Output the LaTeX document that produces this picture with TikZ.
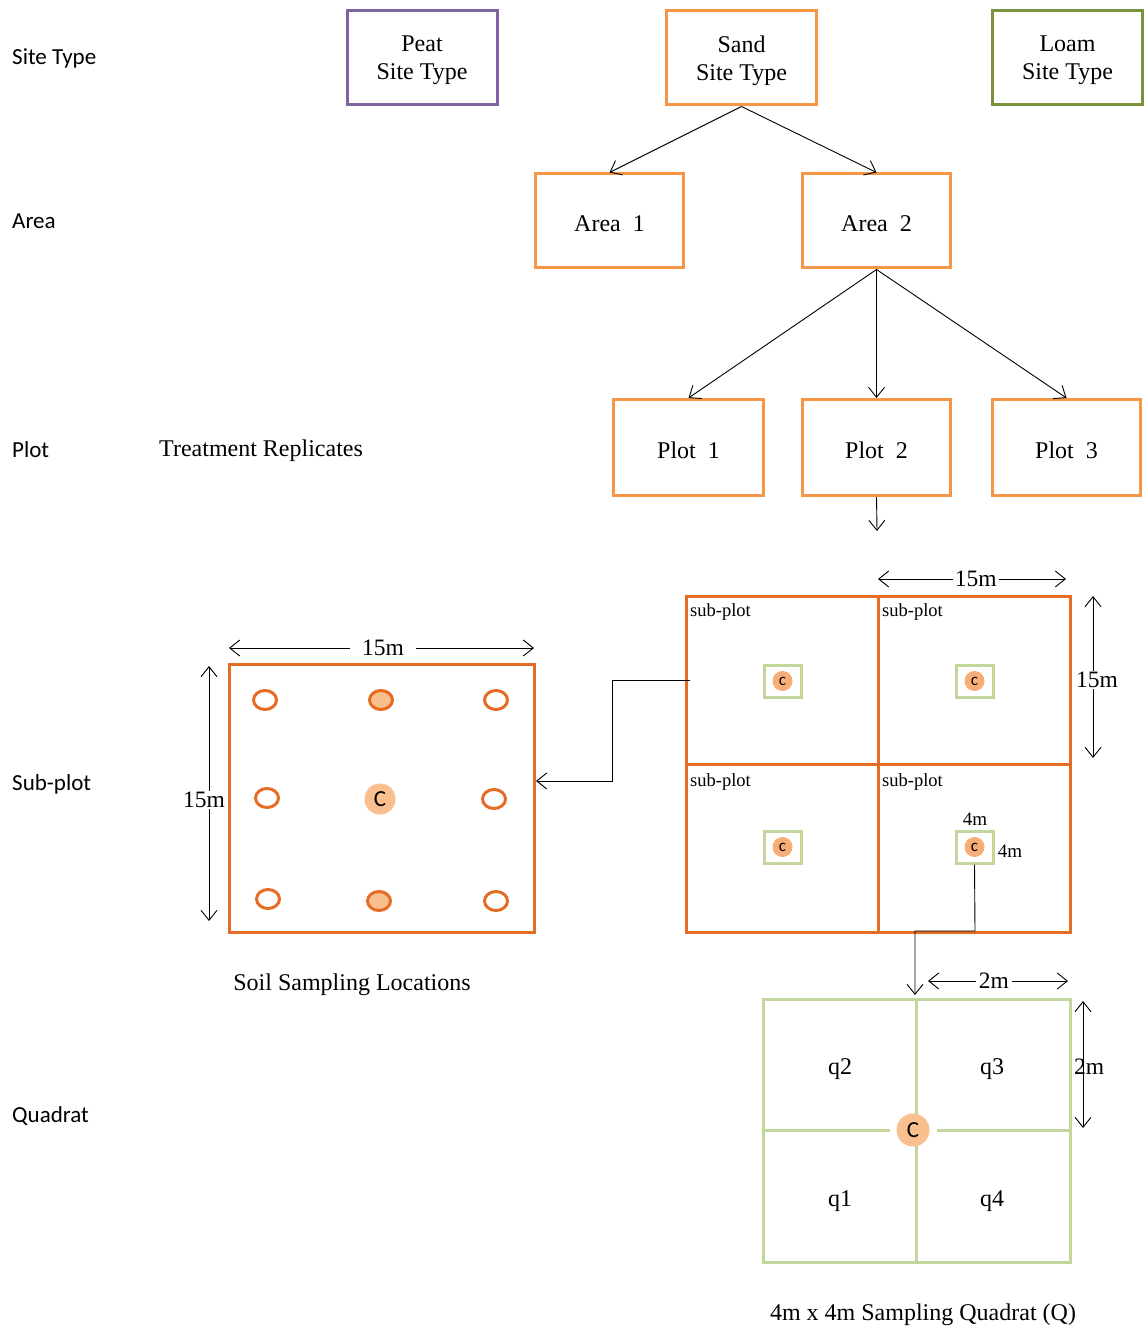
\documentclass[tikz,border=0pt]{standalone}
\usepackage{fontspec}
\setmainfont{Liberation Serif}
\newfontfamily\labfont{Carlito}
\usetikzlibrary{arrows.meta,shapes.geometric}
\definecolor{peat}{HTML}{8064A2}
\definecolor{sand}{HTML}{F79646}
\definecolor{loam}{HTML}{77933C}
\definecolor{dorange}{HTML}{E46C24}
\definecolor{lgreen}{HTML}{C3D69B}
\definecolor{cfill}{HTML}{F9BF8F}
\definecolor{cfilltwo}{HTML}{F7AD78}
\begin{document}
\begin{tikzpicture}[x=1pt,y=-1pt,
  box/.style={draw, line width=3pt, minimum width=150pt, minimum height=94pt, inner sep=0pt},
  boxtxt/.style={align=center, inner sep=0pt, yshift=-2.5pt, font=\fontsize{24}{28}\selectfont},
  lbl/.style={anchor=west, inner sep=0pt, font=\labfont\fontsize{23}{26}\selectfont},
  serif/.style={inner sep=0pt, font=\fontsize{24}{28}\selectfont},
  sub/.style={anchor=west, inner sep=0pt, font=\fontsize{18.5}{20}\selectfont},
  arr/.style={-{Straight Barb[length=10pt,width=16pt]}, line width=0.9pt},
  dimarr/.style={{Straight Barb[length=10pt,width=16pt]}-{Straight Barb[length=10pt,width=16pt]}, line width=0.9pt},
  dimtxt/.style={fill=white, inner xsep=2pt, inner ysep=1pt, font=\fontsize{23.5}{26}\selectfont},
  ring/.style={ellipse, draw=dorange, line width=3pt, minimum width=23pt, minimum height=19pt, inner sep=0pt},
  fring/.style={ring, fill=cfill},
  smallsq/.style={draw=lgreen, line width=3pt, minimum width=37pt, minimum height=32pt, inner sep=0pt},
  smallc/.style={circle, fill=cfilltwo, minimum size=20pt, inner sep=0pt, font=\labfont\fontsize{17}{17}\selectfont},
  bigc/.style={circle, fill=cfill, minimum size=31pt, inner sep=0pt, font=\labfont\fontsize{23}{23}\selectfont}
]
\useasboundingbox (0,0) rectangle (1144,1329);

% left level labels
\node[lbl] (lsite) at (12,58) {Site Type};
\node[lbl] (larea) at (12,221) {Area};
\node[lbl] (lplot) at (12,450) {Plot};
\node[lbl] (lsub) at (12,784) {Sub-plot};
\node[lbl] (lquad) at (12,1116) {Quadrat};
\node[serif, anchor=west] (treat) at (159,451) {Treatment Replicates};

% hierarchy boxes
\node[box, draw=peat] (peat) at (422,58) {};
\node[box, draw=sand] (sandb) at (741.5,58) {};
\node[box, draw=loam] (loam) at (1067.5,58) {};
\node[box, draw=sand, minimum width=148pt] (area1) at (609.5,221) {};
\node[box, draw=sand, minimum width=148pt] (area2) at (876.5,221) {};
\node[box, draw=sand, minimum height=96pt] (plot1) at (688.5,447.5) {};
\node[box, draw=sand, minimum width=148pt, minimum height=96pt] (plot2) at (876.5,447.5) {};
\node[box, draw=sand, minimum width=148pt, minimum height=96pt] (plot3) at (1066.5,447.5) {};
\node[boxtxt] (peatt) at (peat.center) {Peat\\Site Type};
\node[boxtxt] (sandt) at (sandb.center) {Sand\\Site Type};
\node[boxtxt] (loamt) at (loam.center) {Loam\\Site Type};
\node[boxtxt] (area1t) at (area1.center) {Area\ \ 1};
\node[boxtxt] (area2t) at (area2.center) {Area\ \ 2};
\node[boxtxt] (plot1t) at (plot1.center) {Plot\ \ 1};
\node[boxtxt] (plot2t) at (plot2.center) {Plot\ \ 2};
\node[boxtxt] (plot3t) at (plot3.center) {Plot\ \ 3};

\draw[arr] (sandb.south) -- (area1.north);
\draw[arr] (sandb.south) -- (area2.north);
\draw[arr] (area2.south) -- (plot1.north);
\draw[arr] (area2.south) -- (plot2.north);
\draw[arr] (area2.south) -- (plot3.north);
\coordinate (p2end) at (877,531);
\draw[arr] (plot2.south) -- (p2end);

% sub-plot grid (right)
\node[draw=dorange, line width=3pt, minimum width=384pt, minimum height=336pt, inner sep=0pt] (grid) at (878,764) {};
\draw[draw=dorange, line width=3pt] (grid.north) -- (grid.south);
\draw[draw=dorange, line width=3pt] (grid.west) -- (grid.east);
\node[sub] (s1) at (690,612) {sub-plot};
\node[sub] (s2) at (882,612) {sub-plot};
\node[sub] (s3) at (690,782) {sub-plot};
\node[sub] (s4) at (882,782) {sub-plot};
\node[smallsq] (q1) at (782.5,681) {};
\node[smallsq] (q2) at (974.5,681) {};
\node[smallsq] (q3) at (782.5,847) {};
\node[smallsq] (q4) at (974.5,847) {};
\node[smallc] at (q1) {c};
\node[smallc] at (q2) {c};
\node[smallc] at (q3) {c};
\node[smallc] at (q4) {c};
\node[inner sep=0pt, font=\fontsize{19}{20}\selectfont] (q4top) at (975,819) {4m};
\node[inner sep=0pt, font=\fontsize{19}{20}\selectfont] (q4right) at (1010,851) {4m};

\coordinate (gt1) at (878,579);
\coordinate (gt2) at (1066,579);
\draw[dimarr] (gt1) -- (gt2) node[dimtxt, pos=0.52] {15m};
\coordinate (gr1) at (1093,596);
\coordinate (gr2) at (1093,758);
\draw[dimarr] (gr1) -- (gr2) node[dimtxt, pos=0.52, xshift=4pt] {15m};

% soil sampling square (left)
\node[draw=dorange, line width=3pt, minimum width=305pt, minimum height=268pt, inner sep=0pt] (sq) at (381.5,798) {};
\node[ring] (r11) at (265,700) {};
\node[fring] (r12) at (381,700) {};
\node[ring] (r13) at (496,700) {};
\node[ring] (r21) at (267,798) {};
\node[bigc] (rc) at (380,799) {C};
\node[ring] (r23) at (494,799) {};
\node[ring] (r31) at (268,899) {};
\node[fring] (r32) at (379,901) {};
\node[ring] (r33) at (496,901) {};

\coordinate (st1) at (229,648);
\coordinate (st2) at (534,648);
\draw[dimarr] (st1) -- (st2) node[dimtxt, pos=0.505, inner xsep=12pt] {15m};
\coordinate (sl1) at (209,666);
\coordinate (sl2) at (209,921);
\draw[dimarr] (sl1) -- (sl2);
\node[dimtxt] (sl) at (204,800) {15m};
\node[serif] (soil) at (352,985) {Soil Sampling Locations};

% connector grid -> soil square
\coordinate (ca) at (690,680);
\coordinate (cb) at (612,680);
\coordinate (cc) at (612,781);
\coordinate (cd) at (536,781);
\draw[arr] (ca) -- (cb) -- (cc) -- (cd);

% quadrat
\node[draw=lgreen, line width=3pt, minimum width=307pt, minimum height=263pt, inner sep=0pt] (quad) at (916.5,1130.5) {};
\draw[draw=lgreen, line width=3pt] (quad.north) -- (quad.south);
\coordinate (hm1) at (890,1130.5);
\coordinate (hm2) at (937,1130.5);
\draw[draw=lgreen, line width=3pt] (quad.west) -- (hm1);
\draw[draw=lgreen, line width=3pt] (hm2) -- (quad.east);
\node[bigc, minimum size=33pt] (qc) at (913,1130) {C};
\node[serif] (tq2) at (840,1069) {q2};
\node[serif] (tq3) at (992,1069) {q3};
\node[serif] (tq1) at (840,1201) {q1};
\node[serif] (tq4) at (992,1201) {q4};

\coordinate (qt1) at (928,981);
\coordinate (qt2) at (1068,981);
\draw[dimarr] (qt1) -- (qt2) node[dimtxt, pos=0.47, inner xsep=3pt] {2m};
\coordinate (qr1) at (1083,1001);
\coordinate (qr2) at (1083,1128);
\draw[dimarr] (qr1) -- (qr2);
\node[dimtxt, fill=none] (qrt) at (1089,1067) {2m};

% connector subplot square -> quadrat
\coordinate (d1) at (975,931);
\coordinate (d2) at (915,931);
\coordinate (d3) at (915,995);
\draw[arr] (q4.south) -- (d1) -- (d2) -- (d3);

\node[serif] (cap) at (923,1315) {4m x 4m Sampling Quadrat (Q)};
\end{tikzpicture}
\end{document}
